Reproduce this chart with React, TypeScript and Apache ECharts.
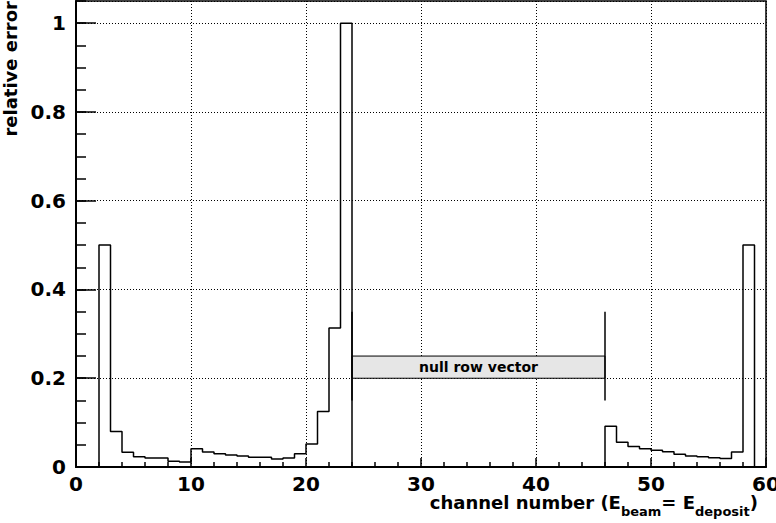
import { useRef, useEffect } from "react"
import * as echarts from "echarts"

// relative error per channel (bin i covers [i, i+1))
const relError = [
  0, 0, 0.5, 0.08, 0.033, 0.023, 0.02, 0.02, 0.013, 0.011,
  0.041, 0.034, 0.03, 0.027, 0.025, 0.022, 0.022, 0.018, 0.02, 0.03,
  0.052, 0.125, 0.313, 1.0, 0, 0, 0, 0, 0, 0,
  0, 0, 0, 0, 0, 0, 0, 0, 0, 0,
  0, 0, 0, 0, 0, 0, 0.092, 0.056, 0.046, 0.041,
  0.038, 0.0345, 0.0285, 0.025, 0.023, 0.021, 0.019, 0.034, 0.5, 0,
]

const nullRange = [24, 46]
const nullBand = [0.2, 0.25]
const nullMarker = [0.15, 0.35]
const nullLabel = "null row vector"

const FONT = '"DejaVu Sans", sans-serif'

export default function App() {
  const chartRef = useRef<HTMLDivElement>(null)

  useEffect(() => {
    if (!chartRef.current) return
    const chart = echarts.init(chartRef.current, null, { renderer: "svg" })

    const histData: number[][] = relError.map((v, i) => [i, v])
    histData.push([relError.length, 0])

    const option = {
      animation: false,
      grid: {
        left: 76,
        right: 10,
        top: 1,
        bottom: 56,
        outerBoundsMode: "none",
        containLabel: false,
        show: true,
        borderColor: "#000",
        borderWidth: 1.5,
      },
      xAxis: {
        type: "value",
        min: 0,
        max: 60,
        interval: 10,
        axisLine: { show: true, lineStyle: { color: "#000", width: 2 } },
        axisTick: { show: true, inside: true, length: 9, lineStyle: { color: "#000", width: 1.5 } },
        minorTick: { show: true, splitNumber: 5, length: 5, lineStyle: { color: "#000", width: 1.5 } },
        axisLabel: { color: "#000", fontSize: 20, fontWeight: "bold", fontFamily: FONT, margin: 7 },
        splitLine: { show: true, lineStyle: { color: "#000", width: 1, type: [1, 2] } },
      },
      yAxis: [
        {
          type: "value",
          min: 0,
          max: 1.05,
          interval: 0.2,
          axisLine: { show: true, lineStyle: { color: "#000", width: 2 } },
          axisTick: { show: true, inside: true, length: 20, lineStyle: { color: "#000", width: 1.5 } },
          axisLabel: {
            color: "#000",
            fontSize: 20,
            fontWeight: "bold",
            fontFamily: FONT,
            margin: 10,
            showMaxLabel: false,
          },
          splitLine: { show: true, lineStyle: { color: "#000", width: 1, type: [1, 2] } },
        },
        {
          type: "value",
          min: 0,
          max: 1.05,
          interval: 0.05,
          position: "left",
          axisLine: { show: false },
          axisTick: { show: true, inside: true, length: 10, lineStyle: { color: "#000", width: 1.5 } },
          axisLabel: { show: false },
          splitLine: { show: false },
        },
      ],
      series: [
        {
          type: "line",
          step: "end",
          data: histData,
          symbol: "none",
          yAxisIndex: 0,
          lineStyle: { color: "#000", width: 1.5 },
          markArea: {
            silent: true,
            itemStyle: { color: "#e6e6e6", borderColor: "#000", borderWidth: 1 },
            label: {
              show: true,
              position: "inside",
              color: "#000",
              fontSize: 14,
              fontWeight: "bold",
              fontFamily: FONT,
            },
            data: [
              [
                { name: nullLabel, xAxis: nullRange[0], yAxis: nullBand[0] },
                { xAxis: nullRange[1], yAxis: nullBand[1] },
              ],
            ],
          },
          markLine: {
            silent: true,
            symbol: ["none", "none"],
            label: { show: false },
            lineStyle: { color: "#000", width: 1.5, type: "solid" },
            data: nullRange.map((x) => [
              { coord: [x, nullMarker[0]] },
              { coord: [x, nullMarker[1]] },
            ]),
          },
        },
      ],
      graphic: [
        {
          type: "text",
          x: 10,
          y: 1,
          rotation: Math.PI / 2,
          style: {
            text: "relative error",
            fontSize: 18,
            fontWeight: "bold",
            fontFamily: FONT,
            fill: "#000",
            align: "right",
            verticalAlign: "middle",
          },
        },
        {
          type: "text",
          x: 758,
          y: 502,
          style: {
            text: "{m|channel number (E}{s|beam}{m|= E}{s|deposit}{m|)}",
            align: "right",
            verticalAlign: "middle",
            fill: "#000",
            rich: {
              m: { fontSize: 18, fontWeight: "bold", fontFamily: FONT, fill: "#000" },
              s: { fontSize: 13, fontWeight: "bold", fontFamily: FONT, fill: "#000", padding: [18, 0, 0, 0] },
            },
          },
        },
      ],
    }

    chart.setOption(option)

    return () => {
      chart.dispose()
    }
  }, [])

  return (
    <div
      ref={chartRef}
      style={{ position: "absolute", left: 0, top: 0, width: "776px", height: "523px", background: "#fff" }}
    />
  )
}
